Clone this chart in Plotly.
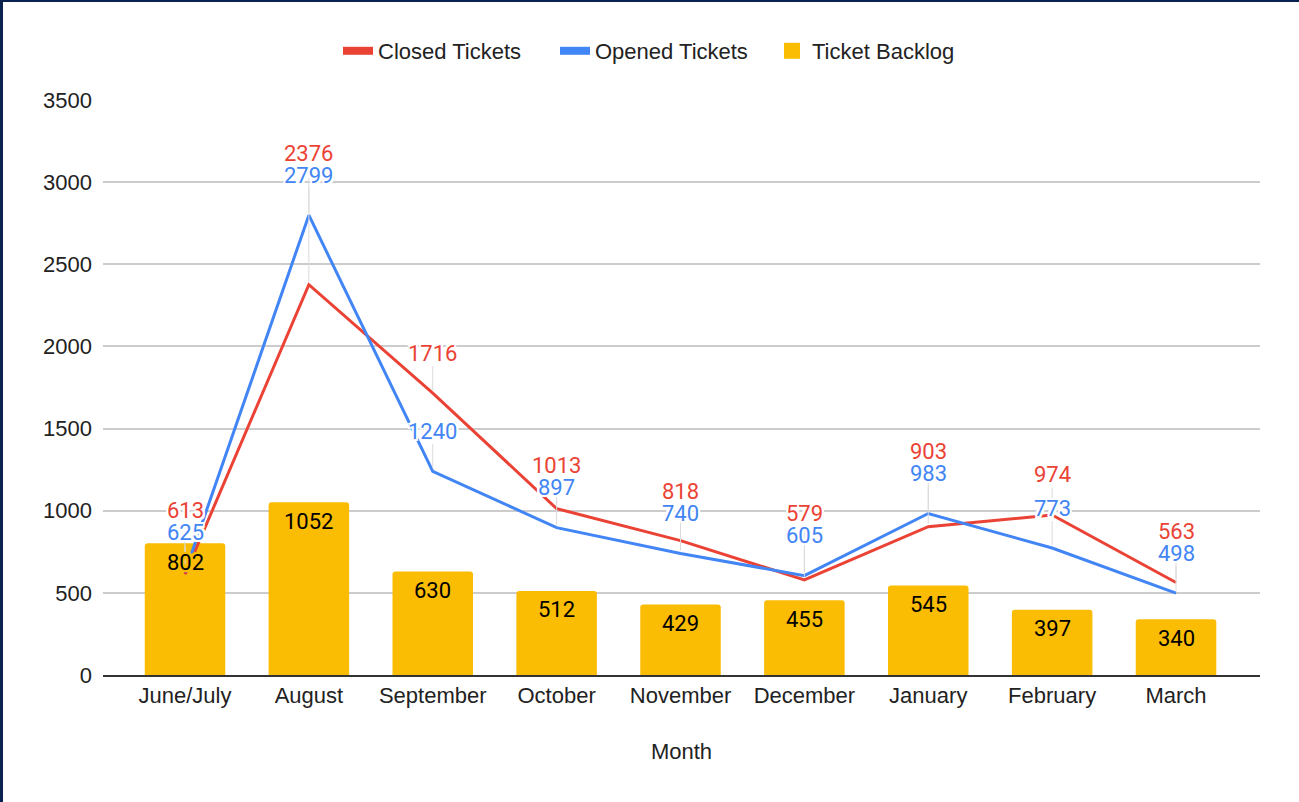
import plotly.graph_objects as go

# ---- data ----
months = ["June/July", "August", "September", "October", "November",
          "December", "January", "February", "March"]
closed_tickets = [613, 2376, 1716, 1013, 818, 579, 903, 974, 563]
opened_tickets = [625, 2799, 1240, 897, 740, 605, 983, 773, 498]
ticket_backlog = [802, 1052, 630, 512, 429, 455, 545, 397, 340]
y_ticks = [0, 500, 1000, 1500, 2000, 2500, 3000, 3500]

# ---- style ----
RED = "#ea4335"
BLUE = "#4285f4"
YELLOW = "#fbbc04"
NAVY = "#0b2150"
TEXT = "#222222"
AXIS_FONT = "Liberation Sans, Arial, sans-serif"
LABEL_FONT = "Roboto, sans-serif"
FS = 22

W, H = 1299, 802
ML, MR, MT, MB = 103, 39, 100, 127
PLOT_W = W - ML - MR
PLOT_H = H - MT - MB
Y_MAX = 3500
PX_PER_UNIT = PLOT_H / Y_MAX

LABEL_GAP = 40      # label distance above its point (px)
LABEL_STACK = 22    # min spacing between stacked labels (px)


def halo(color, r=2):
    offs = [(-r, -r), (r, -r), (-r, r), (r, r), (0, r), (0, -r), (r, 0), (-r, 0)]
    return ", ".join(f"{dx}px {dy}px 0px {color}" for dx, dy in offs)


fig = go.Figure()

fig.add_trace(go.Bar(
    x=months, y=ticket_backlog, name="Ticket Backlog",
    marker=dict(color=YELLOW, cornerradius=3, line=dict(width=0)),
    width=0.65, showlegend=False, hoverinfo="x+y",
))
fig.add_trace(go.Scatter(
    x=months, y=closed_tickets, name="Closed Tickets", mode="lines",
    line=dict(color=RED, width=3), showlegend=False,
))
fig.add_trace(go.Scatter(
    x=months, y=opened_tickets, name="Opened Tickets", mode="lines",
    line=dict(color=BLUE, width=3), showlegend=False,
))

# legend entries with thick swatches
fig.add_trace(go.Scatter(x=[None], y=[None], name="Closed Tickets", mode="lines",
                         line=dict(color=RED, width=8)))
fig.add_trace(go.Scatter(x=[None], y=[None], name="Opened Tickets", mode="lines",
                         line=dict(color=BLUE, width=8)))
fig.add_trace(go.Scatter(x=[None], y=[None], name="Ticket Backlog", mode="markers",
                         marker=dict(color=YELLOW, symbol="square", size=22,
                                     line=dict(width=0))))

annotations = []

# line value labels with leader lines; the closed label is lifted above the
# opened label when the two would collide
for m, c, o in zip(months, closed_tickets, opened_tickets):
    blue_up = LABEL_GAP
    blue_label_px = o * PX_PER_UNIT + blue_up
    red_label_px = max(c * PX_PER_UNIT + LABEL_GAP, blue_label_px + LABEL_STACK)
    red_up = red_label_px - c * PX_PER_UNIT
    for val, up, col in ((c, red_up, RED), (o, blue_up, BLUE)):
        annotations.append(dict(
            x=m, y=val, xref="x", yref="y", text=str(val),
            showarrow=True, arrowhead=0, arrowwidth=1, arrowcolor="#dadada",
            ax=0, ay=-up, standoff=3, borderpad=0,
            font=dict(family=LABEL_FONT, size=FS, color=col, shadow=halo("#ffffff")),
        ))

# backlog value labels inside the top of each bar
for m, b in zip(months, ticket_backlog):
    annotations.append(dict(
        x=m, y=b, xref="x", yref="y", text=str(b), showarrow=False,
        yanchor="middle", yshift=-19,
        font=dict(family=LABEL_FONT, size=FS, color="#000000", shadow=halo(YELLOW)),
    ))

# frame on the left and top edges
shapes = [
    dict(type="rect", xref="paper", yref="paper", layer="above",
         x0=-ML / PLOT_W, x1=(-ML + 3) / PLOT_W,
         y0=-MB / PLOT_H, y1=1 + MT / PLOT_H,
         fillcolor=NAVY, line=dict(width=0)),
    dict(type="rect", xref="paper", yref="paper", layer="above",
         x0=-ML / PLOT_W, x1=1 + MR / PLOT_W,
         y0=1 + (MT - 2) / PLOT_H, y1=1 + MT / PLOT_H,
         fillcolor=NAVY, line=dict(width=0)),
]

fig.update_layout(
    width=W, height=H,
    margin=dict(l=ML, r=MR, t=MT, b=MB, pad=0),
    paper_bgcolor="#ffffff", plot_bgcolor="#ffffff",
    font=dict(family=AXIS_FONT, size=FS, color=TEXT),
    barmode="overlay",
    showlegend=True,
    legend=dict(
        orientation="h", xref="container", yref="container",
        x=0.5 + 14 / W, xanchor="center", y=1 - 51 / H, yanchor="middle",
        font=dict(family=AXIS_FONT, size=FS, color=TEXT),
        itemwidth=30, traceorder="normal",
        entrywidth=172, entrywidthmode="pixels",
    ),
    annotations=annotations,
    shapes=shapes,
)

fig.update_xaxes(
    type="category", categoryorder="array", categoryarray=months,
    range=[-0.662, len(months) - 1 + 0.678],
    showgrid=False, showline=True, linecolor="#333333", linewidth=2,
    ticks="", tickfont=dict(family=AXIS_FONT, size=FS, color=TEXT),
    ticklabelstandoff=0,
    title=dict(text="Month", font=dict(family=AXIS_FONT, size=FS, color=TEXT),
               standoff=36),
    zeroline=False,
)
fig.update_yaxes(
    range=[0, Y_MAX], tickvals=y_ticks, ticktext=[str(t) for t in y_ticks],
    showgrid=True, gridcolor="#cccccc", gridwidth=1.5,
    zeroline=False, showline=False, ticks="",
    tickfont=dict(family=AXIS_FONT, size=FS, color=TEXT),
    ticklabelstandoff=10,
)

fig.write_html("out.html")
